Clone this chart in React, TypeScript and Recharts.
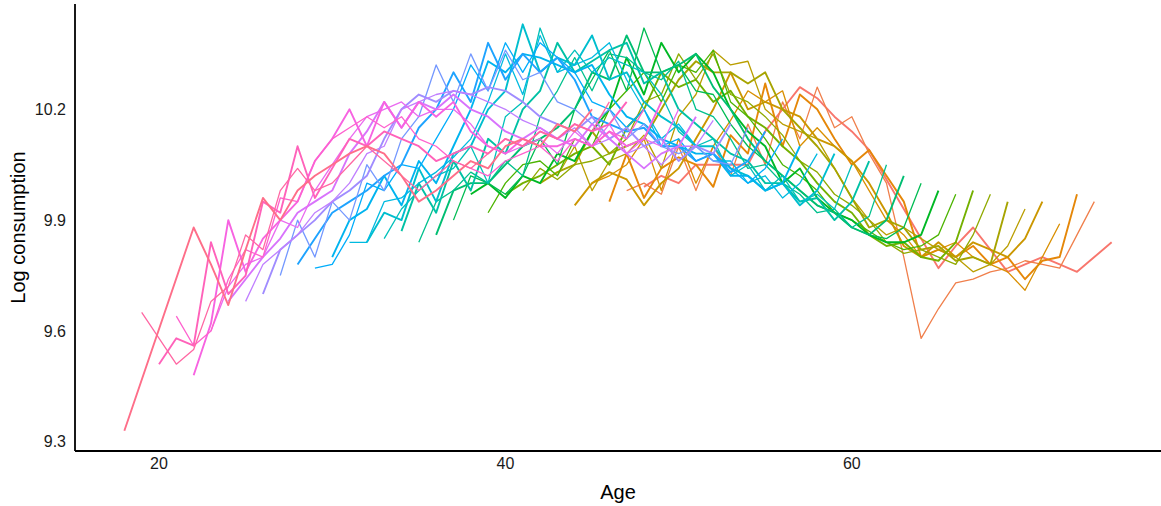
import React from "react";
import { Label, Line, LineChart, XAxis, YAxis } from "recharts";

// age of each cohort in the first survey year (oldest cohort first)
const firstAges = [48, 47, 46, 45, 44, 43, 42, 41, 40, 39, 38, 37, 36, 35, 34, 33, 32, 31, 30, 29, 28, 27, 26, 25, 24, 23, 22, 21, 20, 19, 18];

// log consumption per cohort, one value per survey year
const c75 = [9.99, 10.02, 10.0, 10.05, 10.05, 10.05, 10.05, 10.14, 10.2, 10.26, 10.23, 10.18, 10.14, 10.09, 10.01, 9.93, 9.85, 9.77, 9.83, 9.88, 9.82, 9.76, 9.78, 9.8, 9.78, 9.76, 9.8, 9.84];
const c74 = [9.98, 10.0, 9.97, 10.1, 9.98, 10.1, 10.02, 10.16, 10.05, 10.22, 10.12, 10.26, 10.15, 10.18, 10.08, 10.0, 9.8, 9.58, 9.66, 9.73, 9.74, 9.76, 9.77, 9.79, 9.78, 9.77, 9.86, 9.95];
const c73 = [9.95, 10.08, 9.96, 10.04, 10.07, 10.05, 9.99, 10.13, 10.08, 10.27, 10.1, 10.24, 10.2, 10.12, 10.05, 10.09, 10.02, 9.95, 9.8, 9.82, 9.8, 9.83, 9.78, 9.8, 9.74, 9.79, 9.8, 9.97];
const c72 = [10.0, 10.02, 10.05, 10.12, 9.98, 10.12, 10.0, 10.1, 10.17, 10.25, 10.22, 10.25, 10.1, 10.15, 10.1, 10.06, 9.98, 9.9, 9.86, 9.8, 9.82, 9.84, 9.8, 9.78, 9.76, 9.71, 9.8, 9.89];
const c71 = [9.94, 10.0, 10.03, 10.01, 9.94, 10.0, 10.04, 10.12, 10.2, 10.3, 10.2, 10.22, 10.2, 10.18, 10.12, 10.1, 10.06, 10.0, 9.92, 9.83, 9.8, 9.84, 9.8, 9.84, 9.82, 9.8, 9.85, 9.95];
const c70 = [10.02, 10.1, 9.98, 10.06, 10.08, 10.13, 10.04, 10.18, 10.24, 10.36, 10.32, 10.33, 10.2, 10.16, 10.14, 10.12, 10.04, 9.96, 9.9, 9.86, 9.88, 9.85, 9.82, 9.8, 9.76, 9.78, 9.83, 9.93];
const c69 = [10.0, 10.03, 10.05, 10.14, 10.08, 10.1, 10.12, 10.2, 10.28, 10.33, 10.3, 10.3, 10.27, 10.3, 10.2, 10.15, 10.1, 10.04, 9.96, 9.88, 9.9, 9.88, 9.82, 9.83, 9.79, 9.8, 9.78, 9.95];
const c68 = [9.98, 10.04, 10.01, 10.05, 10.06, 10.08, 10.12, 10.22, 10.24, 10.35, 10.28, 10.35, 10.24, 10.22, 10.18, 10.13, 10.06, 10.03, 9.97, 9.94, 9.9, 9.84, 9.81, 9.82, 9.8, 9.78, 9.86, 9.97];
const c67 = [9.97, 10.0, 10.02, 10.05, 10.08, 10.1, 10.05, 10.15, 10.2, 10.3, 10.26, 10.28, 10.22, 10.25, 10.18, 10.15, 10.1, 10.06, 10.0, 9.95, 9.92, 9.86, 9.83, 9.84, 9.8, 9.79, 9.84, 9.98];
const c66 = [9.92, 10.0, 10.05, 10.06, 10.02, 10.12, 10.1, 10.2, 10.25, 10.3, 10.22, 10.32, 10.3, 10.36, 10.22, 10.18, 10.12, 10.05, 10.02, 9.98, 9.92, 9.9, 9.87, 9.84, 9.82, 9.83, 9.86, 9.97];
const c65 = [9.97, 10.0, 9.96, 10.02, 10.0, 10.08, 10.06, 10.14, 10.2, 10.34, 10.24, 10.38, 10.3, 10.35, 10.3, 10.2, 10.14, 10.1, 10.0, 10.04, 9.96, 9.92, 9.9, 9.86, 9.84, 9.84, 9.86, 9.98];
const c64 = [9.9, 10.02, 10.0, 9.97, 10.02, 10.12, 10.05, 10.2, 10.28, 10.36, 10.25, 10.42, 10.3, 10.32, 10.25, 10.24, 10.16, 10.1, 10.06, 10.02, 9.98, 9.94, 9.92, 9.88, 9.86, 9.85, 9.88, 10.0];
const c63 = [9.86, 9.98, 10.0, 10.0, 10.05, 10.1, 10.12, 10.15, 10.2, 10.3, 10.28, 10.4, 10.3, 10.3, 10.32, 10.35, 10.26, 10.2, 10.12, 10.06, 10.02, 9.98, 9.94, 9.92, 9.88, 9.86, 9.9, 10.02];
const c62 = [9.84, 9.95, 9.98, 10.03, 10.0, 10.06, 10.02, 10.18, 10.25, 10.34, 10.25, 10.35, 10.34, 10.3, 10.28, 10.33, 10.2, 10.18, 10.12, 10.04, 10.05, 10.0, 9.97, 9.92, 9.93, 9.88, 9.91, 10.05];
const c61 = [9.87, 10.0, 9.92, 10.06, 9.98, 10.12, 10.08, 10.2, 10.25, 10.38, 10.3, 10.33, 10.36, 10.38, 10.27, 10.3, 10.2, 10.16, 10.12, 10.08, 10.06, 10.0, 10.0, 9.95, 9.96, 9.9, 9.95, 10.06];
const c60 = [9.85, 9.93, 9.98, 10.02, 10.04, 10.1, 10.0, 10.18, 10.22, 10.42, 10.3, 10.36, 10.3, 10.34, 10.32, 10.3, 10.24, 10.14, 10.1, 10.12, 10.02, 10.05, 9.98, 10.02, 9.95, 9.97, 9.93, 10.05];
const c59 = [9.84, 9.92, 9.9, 10.04, 9.95, 10.08, 10.1, 10.2, 10.25, 10.43, 10.3, 10.34, 10.32, 10.4, 10.28, 10.3, 10.22, 10.18, 10.15, 10.1, 10.1, 10.04, 10.02, 9.98, 10.0, 9.94, 9.98, 10.08];
const c58 = [9.84, 9.84, 9.95, 9.96, 10.0, 10.03, 10.07, 10.12, 10.22, 10.35, 10.24, 10.4, 10.3, 10.32, 10.34, 10.38, 10.28, 10.2, 10.12, 10.16, 10.1, 10.06, 10.06, 10.0, 10.02, 9.96, 10.0, 10.08];
const c57 = [9.8, 9.9, 9.93, 10.02, 9.94, 10.06, 10.0, 10.1, 10.2, 10.33, 10.3, 10.35, 10.34, 10.32, 10.3, 10.32, 10.24, 10.18, 10.16, 10.12, 10.1, 10.08, 10.08, 10.02, 10.02, 9.98, 10.0, 10.1];
const c56 = [9.77, 9.78, 9.86, 10.0, 9.98, 10.05, 10.04, 10.12, 10.2, 10.32, 10.25, 10.38, 10.3, 10.38, 10.34, 10.3, 10.22, 10.2, 10.15, 10.2, 10.1, 10.12, 10.06, 10.08, 10.04, 10.0, 10.04, 10.12];
const c55 = [9.78, 9.85, 9.92, 9.95, 9.98, 10.02, 10.05, 10.15, 10.2, 10.3, 10.22, 10.38, 10.28, 10.35, 10.3, 10.34, 10.28, 10.18, 10.16, 10.14, 10.15, 10.1, 10.1, 10.06, 10.08, 10.03, 10.06, 10.14];
const c54 = [9.75, 9.9, 9.8, 9.95, 9.9, 10.05, 9.98, 10.12, 10.18, 10.32, 10.22, 10.35, 10.25, 10.36, 10.28, 10.3, 10.22, 10.2, 10.16, 10.2, 10.12, 10.16, 10.1, 10.08, 10.1, 10.06, 10.05, 10.15];
const c53 = [9.7, 9.82, 9.86, 9.9, 9.95, 9.98, 10.02, 10.12, 10.2, 10.24, 10.22, 10.25, 10.24, 10.26, 10.25, 10.22, 10.18, 10.16, 10.14, 10.18, 10.12, 10.15, 10.1, 10.12, 10.06, 10.1, 10.08, 10.16];
const c52 = [9.68, 9.78, 9.82, 9.86, 9.92, 9.95, 10.0, 10.08, 10.1, 10.2, 10.22, 10.24, 10.25, 10.24, 10.22, 10.2, 10.17, 10.15, 10.12, 10.15, 10.1, 10.12, 10.08, 10.1, 10.05, 10.1, 10.1, 10.17];
const c51 = [9.68, 9.74, 9.8, 9.85, 9.92, 9.95, 9.98, 10.08, 10.14, 10.22, 10.15, 10.22, 10.2, 10.24, 10.2, 10.18, 10.14, 10.12, 10.15, 10.12, 10.1, 10.16, 10.12, 10.08, 10.04, 10.08, 10.1, 10.18];
const c50 = [9.6, 9.72, 9.78, 9.8, 9.9, 9.88, 9.98, 10.05, 10.12, 10.18, 10.2, 10.22, 10.18, 10.2, 10.2, 10.16, 10.1, 10.08, 10.1, 10.12, 10.08, 10.14, 10.1, 10.16, 10.08, 10.12, 10.1, 10.2];
const c49 = [9.48, 9.62, 9.9, 9.76, 9.85, 9.9, 9.95, 10.06, 10.12, 10.2, 10.1, 10.22, 10.15, 10.22, 10.18, 10.22, 10.14, 10.1, 10.08, 10.12, 10.1, 10.1, 10.12, 10.1, 10.14, 10.1, 10.12, 10.22];
const c48 = [9.64, 9.56, 9.6, 9.74, 9.82, 9.8, 9.96, 9.95, 10.06, 10.12, 10.15, 10.18, 10.15, 10.18, 10.12, 10.1, 10.06, 10.04, 10.02, 10.06, 10.08, 10.1, 10.06, 10.12, 10.1, 10.14, 10.12, 10.2];
const c47 = [9.51, 9.58, 9.56, 9.84, 9.7, 9.75, 9.95, 9.92, 10.1, 9.96, 10.04, 10.12, 10.1, 10.14, 10.12, 10.1, 10.06, 10.08, 10.1, 10.08, 10.12, 10.1, 10.14, 10.12, 10.16, 10.14, 10.16, 10.22];
const c46 = [9.65, null, 9.51, 9.55, 9.68, 9.72, 9.86, 9.82, 9.98, 10.04, 9.98, 10.0, 10.05, 10.1, 10.06, 10.02, 9.98, 10.02, 10.06, 10.04, 10.08, 10.12, 10.1, 10.14, 10.12, 10.16, 10.14, 10.22];
const c45 = [9.33, null, null, null, 9.88, 9.78, 9.67, 9.82, 9.96, 9.9, 9.98, 10.02, 10.05, 10.08, 10.1, 10.08, 10.02, 9.95, 9.98, 10.02, 10.06, 10.04, 10.1, 10.12, 10.1, 10.16, 10.14, 10.2];

const cohorts = [c75, c74, c73, c72, c71, c70, c69, c68, c67, c66, c65, c64, c63, c62, c61, c60, c59, c58, c57, c56, c55, c54, c53, c52, c51, c50, c49, c48, c47, c46, c45];

const xTicks = [20, 40, 60];
const yTicks = [9.3, 9.6, 9.9, 10.2];

// ggplot-style hue palette (hcl, l = 65, c = 100)
function hcl(h: number, c = 100, l = 65) {
    const hr = (h * Math.PI) / 180;
    const u = c * Math.cos(hr);
    const v = c * Math.sin(hr);
    const Xn = 95.047, Yn = 100, Zn = 108.883;
    const den = Xn + 15 * Yn + 3 * Zn;
    const un = (4 * Xn) / den;
    const vn = (9 * Yn) / den;
    const Y = Yn * Math.pow((l + 16) / 116, 3);
    const up = u / (13 * l) + un;
    const vp = v / (13 * l) + vn;
    const X = (Y * 9 * up) / (4 * vp);
    const Z = (Y * (12 - 3 * up - 20 * vp)) / (4 * vp);
    const x = X / 100, y = Y / 100, z = Z / 100;
    const lin = [
        3.2404542 * x - 1.5371385 * y - 0.4985314 * z,
        -0.969266 * x + 1.8760108 * y + 0.041556 * z,
        0.0556434 * x - 0.2040259 * y + 1.0572252 * z,
    ];
    return "#" + lin.map((ch) => {
        const g = ch <= 0.0031308 ? 12.92 * ch : 1.055 * Math.pow(ch, 1 / 2.4) - 0.055;
        const n = Math.round(Math.min(1, Math.max(0, g)) * 255);
        return n.toString(16).padStart(2, "0");
    }).join("");
}

const colors = cohorts.map((_, i) => hcl(15 + (i * 360) / cohorts.length));

const series = cohorts.map((vals, i) =>
    vals
        .map((v, t) => ({ age: firstAges[i] + t, v }))
        .filter((d) => d.v !== null)
);

const font = "'Liberation Sans', Arial, sans-serif";

const YTitle = (props: any) => {
    const { viewBox } = props;
    const cx = viewBox.x + 10;
    const cy = viewBox.y + viewBox.height / 2;
    return (
        <text x={cx} y={cy} transform={`rotate(-90 ${cx} ${cy})`} textAnchor="middle" dominantBaseline="central"
            fontFamily={font} fontSize={20} fill="#000">
            Log consumption
        </text>
    );
};

const App: React.FunctionComponent = () => {
    return (
        <div style={{ position: "absolute", left: 0, top: 0, background: "#fff" }}>
            <LineChart width={1161} height={506} margin={{ top: 4, right: 0, left: 8, bottom: 25 }}>
                <XAxis type="number" dataKey="age" domain={[15.15, 77.85]} ticks={xTicks} allowDataOverflow
                    height={30} tickLine={false} tickSize={0} tickMargin={7}
                    axisLine={{ stroke: "#000", strokeWidth: 1.8 }}
                    tick={{ fill: "#1a1a1a", fontSize: 16, fontFamily: font }}>
                    <Label value="Age" position="bottom" offset={4} fill="#000" fontSize={20} fontFamily={font} />
                </XAxis>
                <YAxis type="number" domain={[9.275, 10.485]} ticks={yTicks} allowDataOverflow
                    width={67} tickLine={false} tickSize={0} tickMargin={9}
                    axisLine={{ stroke: "#000", strokeWidth: 1.8 }}
                    tick={{ fill: "#1a1a1a", fontSize: 16, fontFamily: font }}>
                    <Label content={YTitle} />
                </YAxis>
                {series.map((d, i) => (
                    <Line key={i} data={d} dataKey="v" type="linear" stroke={colors[i]}
                        strokeWidth={i % 2 === 0 ? 1.9 : 1.3} strokeLinejoin="round"
                        dot={false} activeDot={false} isAnimationActive={false} />
                ))}
            </LineChart>
        </div>
    );
};

export default App;
